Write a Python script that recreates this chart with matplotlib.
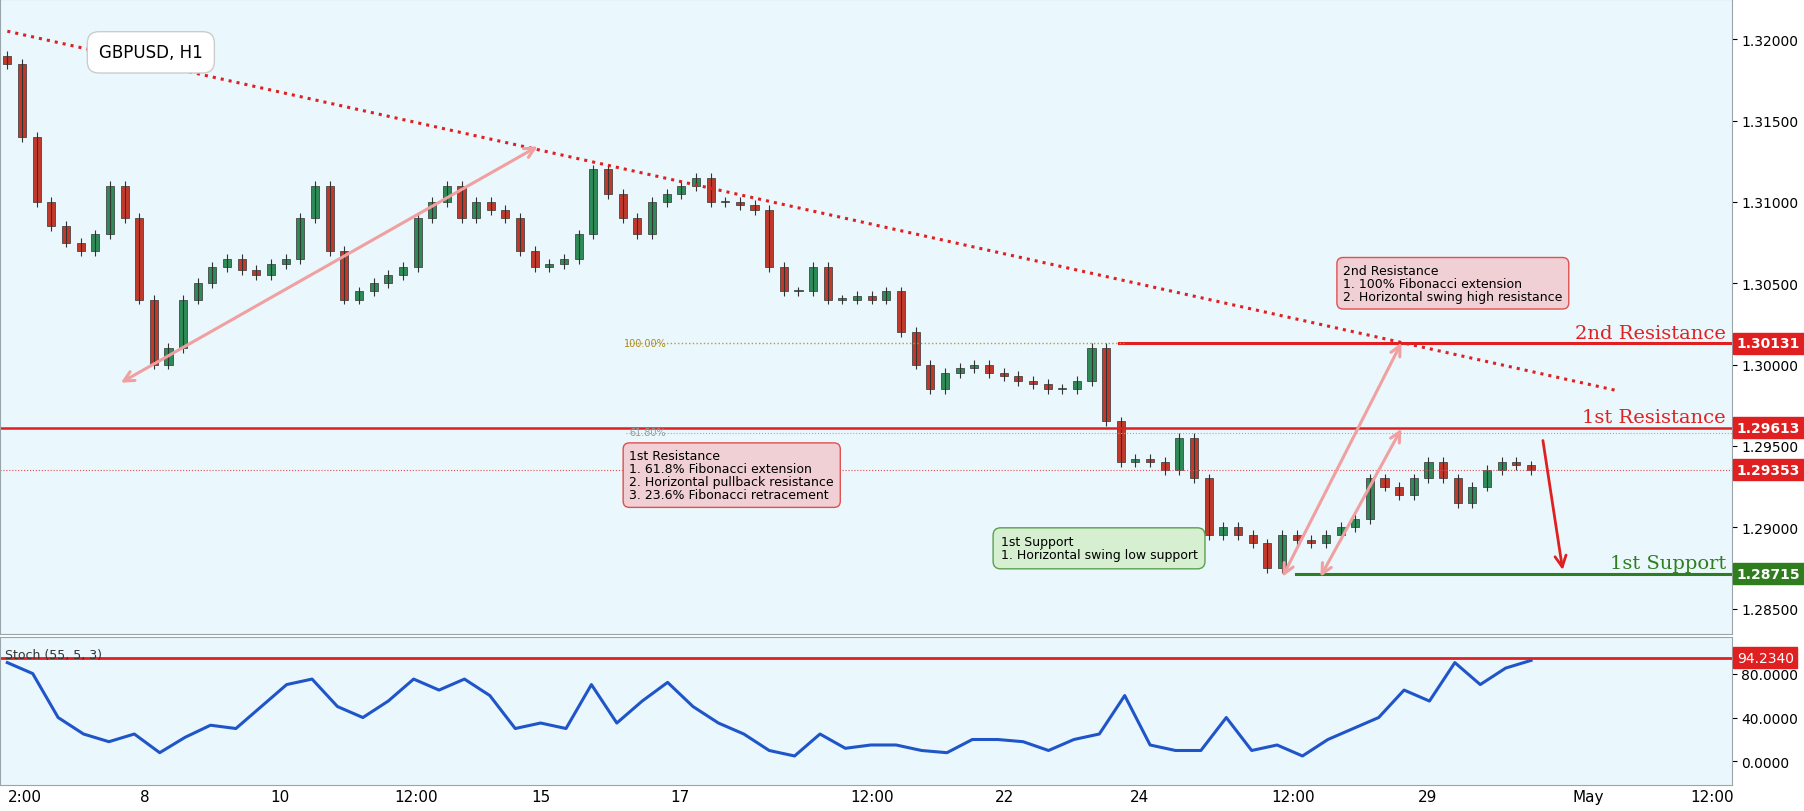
import matplotlib.pyplot as plt
import numpy as np

# hourly closes (approx.) GBPUSD H1
closes = [1.3185, 1.3140, 1.3100, 1.3085, 1.3075, 1.3070, 1.3080, 1.3110, 1.3090, 1.3040,
          1.3000, 1.3010, 1.3040, 1.3050, 1.3060, 1.3065, 1.3058, 1.3055, 1.3062, 1.3065,
          1.3090, 1.3110, 1.3070, 1.3040, 1.3045, 1.3050, 1.3055, 1.3060, 1.3090, 1.3100,
          1.3110, 1.3090, 1.3100, 1.3095, 1.3090, 1.3070, 1.3060, 1.3062, 1.3065, 1.3080,
          1.3120, 1.3105, 1.3090, 1.3080, 1.3100, 1.3105, 1.3110, 1.3115, 1.3100, 1.3100,
          1.3098, 1.3095, 1.3060, 1.3045, 1.3045, 1.3060, 1.3040, 1.3040, 1.3042, 1.3040,
          1.3045, 1.3020, 1.3000, 1.2985, 1.2995, 1.2998, 1.3000, 1.2995, 1.2993, 1.2990,
          1.2988, 1.2985, 1.2985, 1.2990, 1.3010, 1.2965, 1.2940, 1.2942, 1.2940, 1.2935,
          1.2955, 1.2930, 1.2895, 1.2900, 1.2895, 1.2890, 1.2875, 1.2895, 1.2892, 1.2890,
          1.2895, 1.2900, 1.2905, 1.2930, 1.2925, 1.2920, 1.2930, 1.2940, 1.2930, 1.2915,
          1.2925, 1.2935, 1.2940, 1.2938, 1.2935]
open0 = 1.3190

stoch = [90, 80, 40, 25, 18, 25, 8, 22, 33, 30, 50, 70, 75, 50, 40, 55, 75, 65, 75, 60,
         30, 35, 30, 70, 35, 55, 72, 50, 35, 25, 10, 5, 25, 12, 15, 15, 10, 8, 20, 20,
         18, 10, 20, 25, 60, 15, 10, 10, 40, 10, 15, 5, 20, 30, 40, 65, 55, 90, 70, 85, 92]

tick_px = [15, 120, 238, 357, 466, 587, 755, 870, 988, 1122, 1240, 1380, 1488]
tick_labels = ['2:00', '8', '10', '12:00', '15', '17', '12:00', '22', '24', '12:00', '29', 'May', '12:00']
last_px = 1330

res2, res1, cur, sup1, stoch_lvl = 1.30131, 1.29613, 1.29353, 1.28715, 94.2340

bg = '#eaf7fc'
up_c, dn_c = '#2e8b57', '#c0392b'
n = len(closes)
scale = (n - 1) / last_px
px = lambda p: p * scale

fig = plt.figure(figsize=(18.04, 8.12), dpi=100)
fig.patch.set_facecolor('white')
W = 1505 / 1568
ax = fig.add_axes([0, 1 - 552 / 706, W, 552 / 706])
ax2 = fig.add_axes([0, 1 - 683 / 706, W, 128 / 706], sharex=ax)
for a in (ax, ax2):
    a.set_facecolor(bg)
    a.yaxis.tick_right()
    for s in a.spines.values():
        s.set_color('#9aa5ab')

opens = [open0] + closes[:-1]
for i, (o, c) in enumerate(zip(opens, closes)):
    col = up_c if c >= o else dn_c
    hi = max(o, c) + 0.0003
    lo = min(o, c) - 0.0003
    ax.vlines(i, lo, hi, color='#333333', lw=0.8)
    ax.bar(i, max(abs(c - o), 0.00008), bottom=min(o, c), width=0.55, color=col,
           edgecolor='#333333', lw=0.5)

xmax = px(1505)
ax.set_xlim(-0.5 + px(0), xmax)
ax.set_ylim(1.28344, 1.32248)
yt = np.arange(1.285, 1.3201, 0.005)
ax.set_yticks(yt)
ax.set_yticklabels([f'{v:.5f}' for v in yt], fontsize=10)
ax.tick_params(axis='x', length=0)
plt.setp(ax.get_xticklabels(), visible=False)

# trend line
ax.plot([px(0), px(1405)], [1.3205, 1.2984], ls=':', color='#e02020', lw=2.2)
# levels
ax.axhline(res1, color='#e02020', lw=1.8)
ax.plot([px(970), xmax], [res2, res2], color='#e02020', lw=2.2)
ax.plot([px(1125), xmax], [sup1, sup1], color='#2f7d1e', lw=2.2)
ax.axhline(cur, color='#e05050', lw=0.8, ls=':')
ax.plot([px(540), px(975)], [res2, res2], color='#b5a020', lw=1, ls=':')
ax.plot([px(540), xmax], [1.2958, 1.2958], color='#aaaaaa', lw=0.8, ls=':')
ax.text(px(538), 1.30135, '100.00%', fontsize=7, color='#b08a20', ha='left', va='center')
ax.text(px(543), 1.29585, '61.80%', fontsize=7, color='#999999', ha='left', va='center')

ax.text(px(1500), res2 + 0.0001, '2nd Resistance', color='#e02020', fontsize=14, family='serif', ha='right', va='bottom')
ax.text(px(1500), res1 + 0.0001, '1st Resistance', color='#e02020', fontsize=14, family='serif', ha='right', va='bottom')
ax.text(px(1500), sup1 + 0.0001, '1st Support', color='#2f7d1e', fontsize=14, family='serif', ha='right', va='bottom')

arrow_kw = dict(arrowstyle='<->', color='#f0a0a0', lw=2.2, mutation_scale=18)
ax.annotate('', xy=(px(465), 1.3135), xytext=(px(97), 1.2988), arrowprops=arrow_kw)
ax.annotate('', xy=(px(1218), 1.3015), xytext=(px(1112), 1.2868), arrowprops=arrow_kw)
ax.annotate('', xy=(px(1218), 1.2962), xytext=(px(1145), 1.2868), arrowprops=arrow_kw)
ax.annotate('', xy=(px(1358), 1.2872), xytext=(px(1340), 1.2955),
            arrowprops=dict(arrowstyle='->', color='#e02020', lw=2, mutation_scale=20))

ax.text(px(1166), 1.3062, '2nd Resistance\n1. 100% Fibonacci extension\n2. Horizontal swing high resistance',
        fontsize=9, va='top', ha='left', linespacing=1.0,
        bbox=dict(boxstyle='round,pad=0.5', fc='#f0d0d4', ec='#e05050'))
ax.text(px(543), 1.2948, '1st Resistance\n1. 61.8% Fibonacci extension\n2. Horizontal pullback resistance\n3. 23.6% Fibonacci retracement',
        fontsize=9, va='top', ha='left', linespacing=1.0,
        bbox=dict(boxstyle='round,pad=0.5', fc='#f0d0d4', ec='#e05050'))
ax.text(px(867), 1.2895, '1st Support\n1. Horizontal swing low support',
        fontsize=9, va='top', ha='left', linespacing=1.0,
        bbox=dict(boxstyle='round,pad=0.6', fc='#d6efd0', ec='#5aa050'))
ax.text(px(80), 1.3192, 'GBPUSD, H1', fontsize=12, va='center', ha='left',
        bbox=dict(boxstyle='round,pad=0.7', fc='white', ec='#cccccc'))

# right price tags
for val, col in [(res2, '#e02020'), (res1, '#e02020'), (cur, '#e02020'), (sup1, '#2f7d1e')]:
    ax.text(1.003, val, f'{val:.5f}', transform=ax.get_yaxis_transform(), color='white',
            fontsize=10, va='center', ha='left', fontweight='bold',
            bbox=dict(boxstyle='square,pad=0.25', fc=col, ec=col), clip_on=False)

# stochastic
sx = np.linspace(0, n - 1, len(stoch))
ax2.plot(sx, stoch, color='#1f55c8', lw=2.2)
ax2.axhline(stoch_lvl, color='#e02020', lw=2)
ax2.set_ylim(-21, 113)
ax2.set_yticks([0, 40, 80])
ax2.set_yticklabels(['0.0000', '40.0000', '80.0000'], fontsize=10)
ax2.text(1.003, stoch_lvl, f'{stoch_lvl:.4f}', transform=ax2.get_yaxis_transform(), color='white',
         fontsize=10, va='center', ha='left', bbox=dict(boxstyle='square,pad=0.25', fc='#e02020', ec='#e02020'),
         clip_on=False)
ax2.text(0.003, 0.93, 'Stoch (55, 5, 3)', transform=ax2.transAxes, fontsize=9, va='top', color='#333333')
ax2.set_xticks([px(p) for p in tick_px])
ax2.set_xticklabels(tick_labels, fontsize=11)
ax2.tick_params(axis='x', length=0)

fig.savefig('out.png', dpi=100, facecolor='white')
